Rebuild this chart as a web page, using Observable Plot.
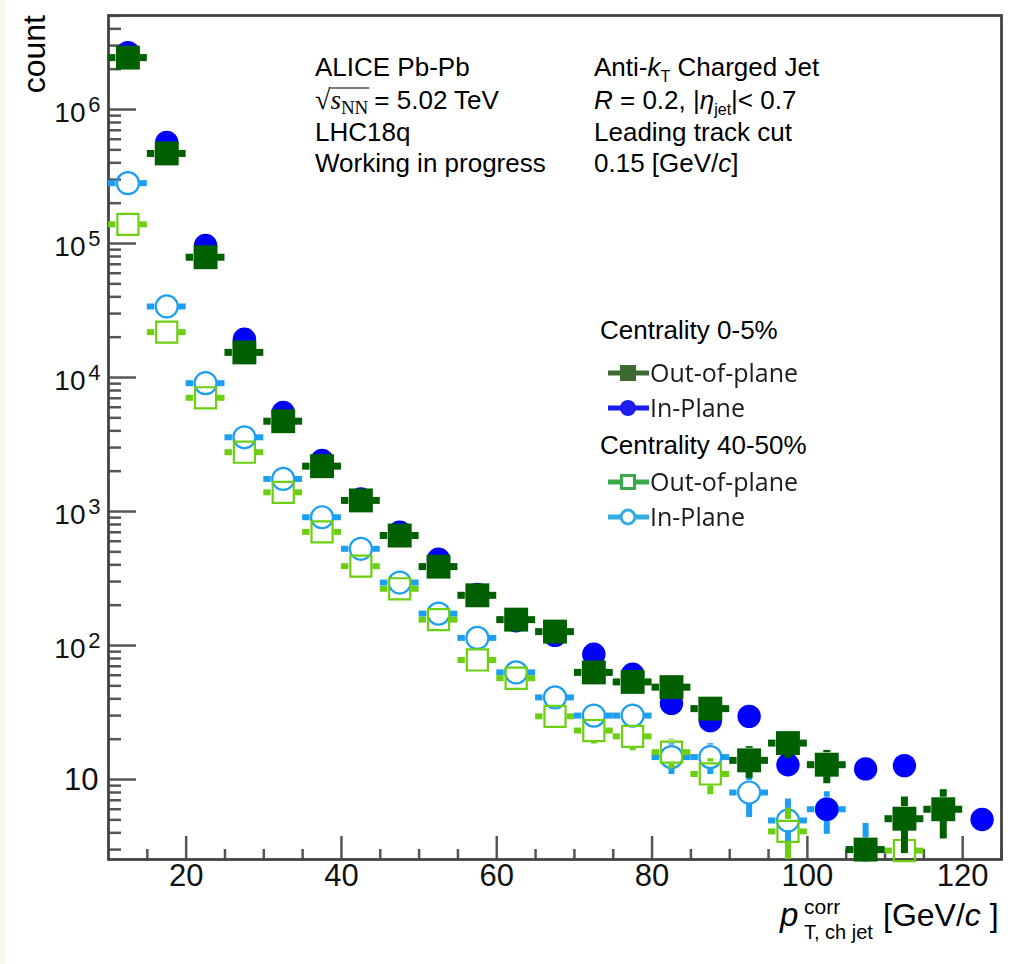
<!DOCTYPE html>
<html>
<head>
<meta charset="utf-8">
<script src="https://cdn.jsdelivr.net/npm/d3@7"></script>
<script src="https://cdn.jsdelivr.net/npm/@observablehq/plot@0.6"></script>
<style>
  html, body { margin: 0; padding: 0; background: #fff; }
  #chart { position: relative; width: 1012px; height: 964px; overflow: hidden; }
  #edge { position: absolute; left: 0; top: 0; width: 5px; height: 964px; background: #f3fae6; }
  svg { display: block; }
  svg text { white-space: pre; }
</style>
</head>
<body>
<div id="chart"><div id="edge"></div></div>
<script>
// Jet pT bin centres [GeV/c], bin width 5
const ptBins = [12.5, 17.5, 22.5, 27.5, 32.5, 37.5, 42.5, 47.5, 52.5, 57.5, 62.5, 67.5,
                72.5, 77.5, 82.5, 87.5, 92.5, 97.5, 102.5, 107.5, 112.5, 117.5, 122.5];
const binHalfWidth = 2.5;

// Centrality 0-5%, out-of-plane
const outPlane05 = [2.44e6, 4.7e5, 7.9e4, 1.54e4, 4.72e3, 2.18e3, 1.21e3, 662, 388, 237, 156, 127,
                    63, 53.5, 48.9, 33.8, 13.9, 18.7, 12.9, 3.0, 5.1, 6.0, null];
const errOutPlane05 = [1560, 690, 280, 124, 69, 47, 35, 26, 20, 15, 12.5, 11,
                       8, 7.3, 7, 5.8, 3.7, 4.3, 3.6, null, 2.3, 2.4, null];

// Centrality 0-5%, in-plane
const inPlane05 = [2.66e6, 5.67e5, 9.66e4, 1.93e4, 5.48e3, 2.4e3, 1.24e3, 700, 441, 240, 153, 119,
                   86, 61, 37, 27.5, 29.6, 12.9, 6.0, 12.0, 12.7, null, 5.03];

// Centrality 40-50%, out-of-plane
const outPlane4050 = [1.39e5, 2.18e4, 7.06e3, 2.77e3, 1.39e3, 705, 391, 265, 156, 78, 57, 29.6,
                      23.2, 21.0, 16.0, 11.0, null, 4.1, null, null, 2.95, null, null];
const errOutPlane4050 = [373, 148, 84, 53, 37, 26.5, 19.8, 16.3, 12.5, 8.8, 7.5, 5.4,
                         4.8, 4.6, 4.0, 3.3, null, 2.0, null, null, 1.7, null, null];

// Centrality 40-50%, in-plane
const inPlane4050 = [2.82e5, 3.39e4, 9.07e3, 3.58e3, 1.75e3, 906, 527, 295, 173, 114, 63, 41,
                     30, 30, 14.7, 14.7, 8.0, 4.95, 6.0, 3.0, null, null, null];
const errInPlane4050 = [530, 184, 95, 60, 42, 30, 23, 17, 13, 10.7, 8, 6.4,
                        5.5, 5.5, 3.8, 3.8, 2.8, 2.2, 2.1, 1.7, null, null, null];

// Axis ticks and labels
const xMajorTicks = [20, 40, 60, 80, 100, 120];
const yMajorTicks = [10, 100, 1e3, 1e4, 1e5, 1e6];

// Layout
const W = 1012, H = 964;
const mL = 108, mR = 11, mT = 15, mB = 105;
const frameW = W - mL - mR, frameH = H - mT - mB;
const xDomain = [10, 125];
const yDomain = [2.53, 5.03e6];
const SANS = "'Liberation Sans', Arial, Helvetica, sans-serif";
const SERIF = "'Liberation Serif', 'Times New Roman', serif";

// Minor ticks
const xMinorTicks = d3.range(15, 126, 5).filter(v => !xMajorTicks.includes(v));
const yMinorTicks = [];
for (let e = 0; e <= 6; e++) for (let m = 2; m <= 9; m++) {
  const v = m * 10 ** e;
  if (v >= yDomain[0] && v <= yDomain[1]) yMinorTicks.push(v);
}

const pxPerDecade = frameH / Math.log10(yDomain[1] / yDomain[0]);
const pxLen = (a, b) => Math.abs(Math.log10(b / a)) * pxPerDecade;

function rows(values, errors) {
  return ptBins.map((x, i) => ({x, y: values[i], e: errors ? errors[i] : null}))
               .filter(d => d.y != null);
}

// Drawing order: 40-50% in-plane, 40-50% out-of-plane, 0-5% in-plane, 0-5% out-of-plane
const series = [
  {data: rows(inPlane4050, errInPlane4050), color: "#1c9ef2", symbol: "circle", filled: false, r: 11, gap: 12, bar: 6},
  {data: rows(outPlane4050, errOutPlane4050), color: "#6ccf12", symbol: "square", filled: false, r: 11.9, gap: 12, bar: 6},
  {data: rows(inPlane05, null), color: "#0000ff", symbol: "circle", filled: true, r: 11.7, gap: 0, bar: 0},
  {data: rows(outPlane05, errOutPlane05), color: "#006000", symbol: "square", filled: true, r: 13.5, gap: 12, bar: 7}
];

function seriesMarks(s) {
  const marks = [];
  if (s.bar > 0) {
    const style = {stroke: s.color, strokeWidth: s.bar};
    marks.push(Plot.ruleY(s.data, {y: "y", x1: d => d.x - binHalfWidth, x2: "x", insetRight: s.gap, ...style}));
    marks.push(Plot.ruleY(s.data, {y: "y", x1: "x", x2: d => d.x + binHalfWidth, insetLeft: s.gap, ...style}));
    const up = s.data.filter(d => d.e != null && pxLen(d.y, d.y + d.e) > s.gap);
    const lo = d => Math.max(d.y - d.e, yDomain[0]);
    const down = s.data.filter(d => d.e != null && pxLen(lo(d), d.y) > s.gap);
    marks.push(Plot.ruleX(up, {x: "x", y1: d => d.y + d.e, y2: "y", insetBottom: s.gap, ...style}));
    marks.push(Plot.ruleX(down, {x: "x", y1: "y", y2: lo, insetTop: s.gap, ...style}));
  }
  marks.push(Plot.dot(s.data, {
    x: "x", y: "y", r: s.r, symbol: s.symbol,
    fill: s.filled ? s.color : "none",
    stroke: s.filled ? "none" : s.color,
    strokeWidth: s.filled ? 0 : 2.2
  }));
  return marks;
}

const tickStyle = {stroke: "#555", strokeWidth: 2.5};

const plot = Plot.plot({
  width: W, height: H,
  marginLeft: mL, marginRight: mR, marginTop: mT, marginBottom: mB,
  x: {domain: xDomain, axis: null},
  y: {type: "log", domain: yDomain, axis: null},
  style: {fontFamily: SANS, background: "transparent", color: "#000"},
  marks: [
    // inward tick marks
    Plot.ruleY(yMajorTicks, {y: d => d, insetRight: frameW - 28, ...tickStyle}),
    Plot.ruleY(yMinorTicks, {y: d => d, insetRight: frameW - 13, ...tickStyle}),
    Plot.ruleX(xMajorTicks, {x: d => d, insetTop: frameH - 23, ...tickStyle}),
    Plot.ruleX(xMinorTicks, {x: d => d, insetTop: frameH - 10, ...tickStyle}),
    Plot.frame({stroke: "#444", strokeWidth: 2.8}),
    // y tick labels 10^n
    Plot.text(yMajorTicks.filter(d => d > 10), {y: d => d, frameAnchor: "left", text: () => "10",
      textAnchor: "end", dx: -23, dy: 4, fontSize: 28, fill: "#111"}),
    Plot.text(yMajorTicks.filter(d => d > 10), {y: d => d, frameAnchor: "left",
      text: d => String(Math.round(Math.log10(d))), textAnchor: "end", dx: -8, dy: -5, fontSize: 22, fill: "#111"}),
    Plot.text(yMajorTicks.filter(d => d === 10), {y: d => d, frameAnchor: "left", text: d => String(d),
      textAnchor: "end", dx: -10, dy: 1, fontSize: 31, fill: "#111"}),
    // x tick labels
    Plot.text(xMajorTicks, {x: d => d, frameAnchor: "bottom", text: d => String(d), dy: 26, fontSize: 31, fill: "#111"}),
    // data
    ...series.flatMap(seriesMarks)
  ]
});

document.getElementById("chart").appendChild(plot);

// Rich text annotations
const svg = d3.select(plot);
const g = svg.append("g").attr("class", "annotations").attr("text-anchor", "start");

function place(parent, x, y, pieces, base) {
  let cx = x;
  for (const p of pieces) {
    const t = parent.append("text")
      .attr("x", cx).attr("y", y + (p.dy || 0))
      .attr("text-anchor", "start")
      .attr("font-family", p.family || base.family)
      .attr("font-size", p.size || base.size)
      .attr("font-style", p.italic ? "italic" : null)
      .attr("fill", base.fill || "#000")
      .text(p.t);
    p.x0 = cx;
    p.w = t.node().getComputedTextLength();
    cx += p.w + (p.gap || 0);
  }
  return pieces;
}

const base = {family: SANS, size: 26, fill: "#000"};

// left column
place(g, 315, 76, [{t: "ALICE Pb-Pb"}], base);
const sq = place(g, 315, 109, [
  {t: "\u221A", family: SERIF, size: 28},
  {t: "s", family: SERIF, italic: true, size: 27},
  {t: "NN", family: SERIF, size: 19, dy: 5, gap: 6},
  {t: "= 5.02 TeV"}
], base);
g.append("line")
  .attr("x1", sq[1].x0).attr("x2", sq[2].x0 + sq[2].w + 1)
  .attr("y1", 109 - 21).attr("y2", 109 - 21)
  .attr("stroke", "#000").attr("stroke-width", 1.2);
place(g, 315, 141, [{t: "LHC18q"}], base);
place(g, 315, 172, [{t: "Working in progress"}], base);

// right column
place(g, 594, 76, [
  {t: "Anti-"}, {t: "k", italic: true}, {t: "T", size: 16, dy: 6}, {t: " Charged Jet"}
], base);
place(g, 594, 109, [
  {t: "R", italic: true}, {t: " = 0.2, |"}, {t: "\u03B7", italic: true},
  {t: "jet", size: 16, dy: 6}, {t: "|< 0.7"}
], base);
place(g, 594, 141, [{t: "Leading track cut"}], base);
place(g, 594, 172, [{t: "0.15 [GeV/"}, {t: "c", italic: true}, {t: "]"}], base);

// axis titles
g.append("text")
  .attr("transform", "translate(45,15) rotate(-90)")
  .attr("text-anchor", "end")
  .attr("font-family", SANS).attr("font-size", 32).attr("fill", "#000")
  .text("count");

place(g, 780, 926, [{t: "p", italic: true, size: 33}], {family: SANS, size: 32});
place(g, 804, 914, [{t: "corr", size: 21}], {family: SANS, size: 21});
place(g, 804, 939, [{t: "T, ch jet", size: 20}], {family: SANS, size: 20});
place(g, 883, 926, [{t: "[GeV/"}, {t: "c", italic: true}, {t: " ]"}], {family: SANS, size: 32});

// legend
const LEG_FONT = "'Open Sans', 'Noto Sans', sans-serif";
const leg = svg.append("g").attr("class", "legend").attr("text-anchor", "start");
place(leg, 600, 339, [{t: "Centrality 0-5%"}], base);
place(leg, 600, 454, [{t: "Centrality 40-50%"}], base);

const legendEntries = [
  {label: "Out-of-plane", y: 373, color: "#3d6b33", symbol: d3.symbolSquare, size: 256, filled: true},
  {label: "In-Plane", y: 408, color: "#1c1cf0", symbol: d3.symbolCircle, size: 200, filled: true},
  {label: "Out-of-plane", y: 482, color: "#3aa84c", symbol: d3.symbolSquare, size: 170, filled: false},
  {label: "In-Plane", y: 517, color: "#36ade3", symbol: d3.symbolCircle, size: 150, filled: false}
];
svg.append("defs").append("filter").attr("id", "legblur")
  .append("feGaussianBlur").attr("stdDeviation", 0.45);
const entries = leg.append("g").attr("filter", "url(#legblur)");
for (const e of legendEntries) {
  entries.append("line")
    .attr("x1", 608).attr("x2", 649).attr("y1", e.y).attr("y2", e.y)
    .attr("stroke", e.color).attr("stroke-width", 5);
  entries.append("path")
    .attr("transform", `translate(628,${e.y})`)
    .attr("d", d3.symbol(e.symbol, e.size)())
    .attr("fill", e.filled ? e.color : "#fff")
    .attr("stroke", e.filled ? "none" : e.color)
    .attr("stroke-width", e.filled ? 0 : 3);
  entries.append("text")
    .attr("x", 650).attr("y", e.y + 9)
    .attr("text-anchor", "start")
    .attr("font-family", LEG_FONT).attr("font-size", 25)
    .attr("fill", "#1b1b1b")
    .text(e.label);
}
</script>
</body>
</html>
